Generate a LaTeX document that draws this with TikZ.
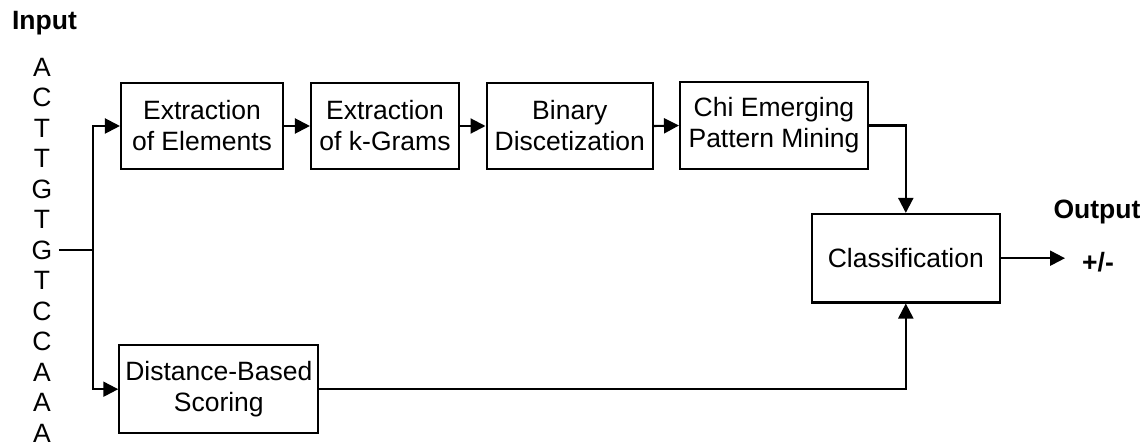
\documentclass[tikz,border=0pt]{standalone}
\usepackage{fontspec}
\setmainfont{Liberation Sans}
\usetikzlibrary{arrows.meta}
\begin{document}
\begin{tikzpicture}[x=1pt,y=-1pt,
  every node/.style={font=\fontsize{26.5}{31}\selectfont},
  box/.style={draw,line width=2.1pt,align=center,inner sep=0pt},
  arr/.style={line width=2.1pt,-{Triangle[length=15pt,width=15pt]}},
  ln/.style={line width=2.1pt},
  lbl/.style={font=\fontsize{26.5}{31}\selectfont\bfseries}]
\useasboundingbox (0,0) rectangle (1148,446);
% input
\node[lbl] (inp) at (44.5,23) {Input};
\foreach \c [count=\i] in {A,C,T,T,G,T,G,T,C,C,A,A,A}
  \node (l\i) at (42,{67+30.5*(\i-1)}) {\c};
% boxes
\node[box,minimum width=162pt,minimum height=86pt] (b1) at (202,126) {Extraction\\of Elements};
\node[box,minimum width=148pt,minimum height=86pt] (b2) at (385,126) {Extraction\\of k-Grams};
\node[box,minimum width=166.5pt,minimum height=86pt] (b3) at (569.8,126) {Binary\\Discetization};
\node[box,minimum width=188pt,minimum height=87.6pt] (b4) at (774,125.5) {Chi Emerging\\Pattern Mining};
\node[box,minimum width=188.3pt,minimum height=88.5pt] (cls) at (905.8,258.2) {Classification};
\node[box,minimum width=199pt,minimum height=88.3pt] (dist) at (218.8,389.2) {Distance-Based\\Scoring};
% output
\node[lbl] (outlbl) at (1097,212) {Output};
\node[lbl] (res) at (1098,262) {+/-};
\coordinate (tip) at (1065,262);
\coordinate (fork) at (93,250);
% connectors
\draw[ln] ([xshift=3pt]l7.east) -- (fork);
\draw[arr] (fork) |- (b1.west);
\draw[arr] (fork) |- (dist.west);
\draw[arr] (b1.east) -- (b2.west);
\draw[arr] (b2.east) -- (b3.west);
\draw[arr] (b3.east) -- (b4.west);
\draw[arr] (b4.east) -| (cls.north);
\draw[arr] (dist.east) -| (cls.south);
\draw[arr] (cls.east) -- (cls.east -| tip);
\end{tikzpicture}
\end{document}
